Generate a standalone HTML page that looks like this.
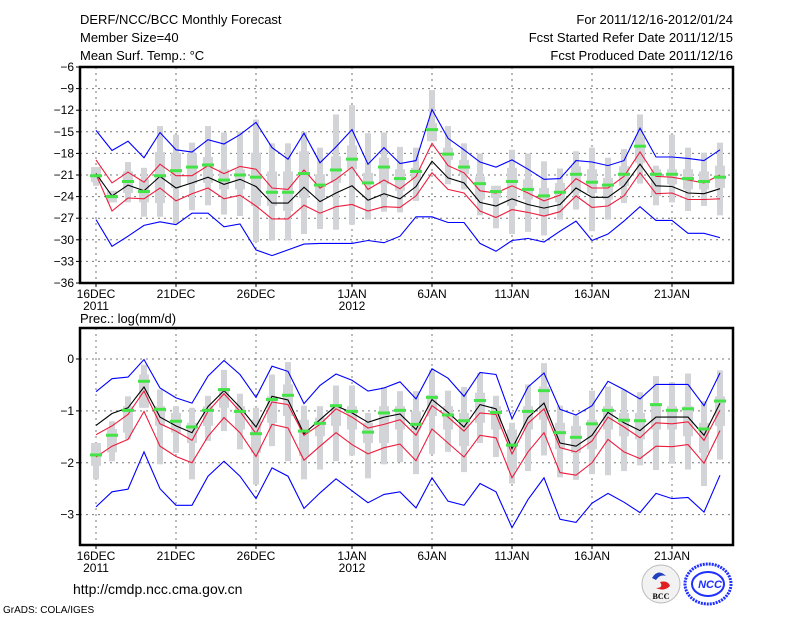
<!DOCTYPE html>
<html><head><meta charset="utf-8">
<style>
html,body{margin:0;padding:0;background:#fff;}
svg{display:block;font-family:"Liberation Sans","DejaVu Sans",sans-serif;}
</style></head>
<body>
<svg id="chart" width="800" height="618" viewBox="0 0 800 618" xmlns="http://www.w3.org/2000/svg">
<rect width="800" height="618" fill="#fff"/>
<g font-size="13" fill="#000">
<text x="80" y="24">DERF/NCC/BCC Monthly Forecast</text>
<text x="80" y="42">Member Size=40</text>
<text x="80" y="60">Mean Surf. Temp.: °C</text>
<text x="733" y="24" text-anchor="end">For 2011/12/16-2012/01/24</text>
<text x="733" y="42" text-anchor="end">Fcst Started Refer Date 2011/12/15</text>
<text x="733" y="60" text-anchor="end">Fcst Produced Date 2011/12/16</text>
<text x="80" y="323">Prec.: log(mm/d)</text>
<text x="73" y="594" font-size="14">http://cmdp.ncc.cma.gov.cn</text>
<text x="3" y="613" font-size="10">GrADS: COLA/IGES</text>
</g>
<g id="top"></g>
<g id="bot"></g>
<g>
<circle cx="661" cy="584" r="19" fill="#f2f2f2" stroke="#bbb"/>
<path d="M652 578 q6 -10 14 -2 q-6 -2 -10 4z" fill="#2040c0"/>
<path d="M660 582 q8 -2 10 4 q-6 6 -14 2 q8 0 4 -6z" fill="#e02020"/>
<text x="661" y="599" font-size="8" text-anchor="middle" font-family="Liberation Serif" font-weight="bold">BCC</text>
<ellipse cx="708" cy="584" rx="23" ry="20" fill="none" stroke="#2030ff" stroke-width="3" stroke-dasharray="2 1"/>
<ellipse cx="708" cy="584" rx="16" ry="12" fill="none" stroke="#2030ff" stroke-width="2"/>
<text x="710" y="588" font-size="11" text-anchor="middle" fill="#2030ff" font-style="italic" font-weight="bold">NCC</text>
</g>
</svg>
<script>
const days = Array.from({length:40},(_,i)=>i);
const xLabels = ["16DEC","21DEC","26DEC","1JAN","6JAN","11JAN","16JAN","21JAN"];
const xLabelDays = [0,5,10,16,21,26,31,36];
const yrLabels = ["2011","2012"];
const yrLabelDays = [0,16];

// ---- Temperature panel data ----
const tTicks = [-6,-9,-12,-15,-18,-21,-24,-27,-30,-33,-36];
const tMean = [-20.8,-23.9,-22.4,-23.2,-21.2,-22.8,-22.1,-21.3,-22.3,-21.6,-22.6,-24.9,-24.9,-22.7,-24.7,-23.5,-22.5,-24.5,-23.6,-24.3,-22.6,-19.1,-21.4,-22.1,-24.8,-25.3,-24.3,-25.1,-25.6,-25.1,-22.8,-24.1,-24.1,-22.5,-19.5,-22.5,-22.6,-23.5,-23.6,-22.9];
const tRedHi = [-18.9,-22.1,-20.6,-22.0,-19.5,-21.1,-21.1,-19.7,-20.8,-19.8,-20.2,-22.8,-23.0,-20.3,-22.8,-21.6,-19.9,-23.0,-21.7,-22.9,-21.2,-16.6,-19.7,-20.7,-23.2,-23.5,-22.5,-23.5,-24.6,-23.8,-21.5,-22.8,-22.8,-21.2,-17.8,-21.2,-21.3,-21.7,-22.1,-21.0];
const tRedLo = [-20.9,-26.0,-24.2,-24.3,-22.8,-24.6,-23.6,-22.8,-24.3,-23.8,-25.3,-27.1,-27.1,-25.2,-26.3,-25.4,-25.1,-26.0,-25.4,-25.5,-23.9,-20.7,-23.0,-23.5,-26.0,-26.9,-25.8,-26.2,-26.7,-26.1,-23.9,-25.5,-25.3,-23.9,-20.7,-23.6,-23.5,-24.4,-24.4,-24.3];
const tBlueHi = [-14.8,-17.6,-16.3,-18.6,-15.1,-17.5,-17.8,-16.1,-16.7,-15.4,-13.7,-17.2,-18.8,-15.2,-19.3,-17.1,-14.7,-19.5,-17.2,-19.4,-19.0,-11.9,-15.9,-17.5,-19.2,-19.9,-18.9,-20.2,-21.6,-21.5,-19.0,-19.2,-19.7,-19.0,-14.5,-18.5,-18.5,-18.7,-19.0,-17.5];
const tBlueLo = [-27.2,-30.9,-29.5,-28.0,-27.5,-27.9,-26.3,-26.3,-28.2,-27.8,-31.4,-32.2,-31.4,-30.6,-30.5,-30.5,-30.5,-30.1,-30.4,-29.5,-26.8,-26.8,-27.6,-27.6,-30.5,-31.6,-30.1,-29.8,-30.3,-28.8,-27.4,-30.1,-29.2,-27.4,-25.4,-27.3,-27.3,-29.1,-29.1,-29.7];
const tGreen = [-21.1,-24.0,-21.9,-23.3,-21.1,-20.4,-19.9,-19.6,-21.7,-21.0,-21.3,-23.4,-23.4,-20.8,-22.4,-20.3,-18.8,-22.1,-19.9,-21.5,-20.5,-14.7,-18.1,-19.9,-22.2,-23.3,-21.9,-23.0,-23.9,-23.4,-20.9,-22.0,-22.4,-20.9,-17.0,-20.9,-20.9,-21.5,-21.9,-21.3];
const tWhiskHi = [-20.0,-23.2,-19.2,-20.0,-14.2,-15.4,-16.5,-14.2,-15.1,-15.0,-13.3,-16.6,-16.6,-15.0,-17.2,-12.6,-11.3,-15.2,-15.1,-17.1,-17.2,-9.2,-14.2,-16.6,-18.0,-22.5,-17.5,-18.0,-19.1,-20.1,-17.7,-17.2,-18.6,-17.4,-12.6,-19.7,-15.4,-17.2,-17.9,-16.5];
const tWhiskLo = [-22.5,-24.8,-24.8,-26.8,-26.8,-27.8,-25.9,-25.2,-26.5,-26.7,-30.3,-30.1,-30.1,-29.2,-28.5,-28.6,-27.9,-27.2,-26.1,-26.2,-24.6,-16.3,-22.3,-23.0,-26.6,-28.4,-29.2,-28.9,-29.4,-27.2,-25.8,-28.8,-27.2,-24.9,-22.2,-25.2,-24.8,-26.0,-25.3,-26.6];
const tBoxHi = [-19.9,-23.2,-20.5,-21.6,-17.8,-17.9,-18.0,-18.5,-20.2,-20.2,-17.9,-20.5,-20.5,-17.7,-20.9,-18.4,-16.9,-20.7,-18.6,-20.2,-20.0,-13.8,-17.2,-18.9,-21.2,-22.5,-20.0,-21.6,-22.8,-22.1,-19.8,-20.2,-21.4,-19.8,-15.7,-20.2,-20.2,-20.2,-20.5,-19.7];
const tBoxLo = [-22.0,-24.8,-23.5,-24.8,-24.9,-22.8,-22.2,-22.1,-23.0,-23.0,-25.3,-25.3,-26.0,-24.2,-24.2,-22.1,-20.2,-22.3,-22.3,-23.2,-21.6,-16.3,-18.9,-20.9,-24.4,-24.2,-25.3,-24.4,-26.7,-24.8,-23.5,-23.5,-24.4,-22.5,-19.3,-23.9,-22.3,-23.0,-23.0,-22.8];

// ---- Precipitation panel data ----
const pTicks = [0,-1,-2,-3];
const pMean = [-1.28,-1.05,-0.94,-0.54,-1.12,-1.29,-1.42,-0.92,-0.61,-0.93,-1.31,-0.72,-0.79,-1.44,-1.17,-0.90,-1.04,-1.22,-1.12,-1.06,-1.36,-0.78,-1.03,-1.31,-0.88,-0.96,-1.73,-1.13,-0.85,-1.62,-1.68,-1.47,-1.03,-1.23,-1.38,-1.12,-1.12,-1.12,-1.47,-0.85];
const pRedHi = [-1.46,-1.29,-1.07,-0.62,-1.25,-1.39,-1.57,-1.01,-0.67,-1.01,-1.44,-0.83,-0.88,-1.47,-1.26,-0.96,-1.12,-1.33,-1.26,-1.17,-1.47,-0.90,-1.12,-1.39,-1.04,-1.07,-1.83,-1.24,-0.96,-1.71,-1.79,-1.58,-1.12,-1.31,-1.52,-1.23,-1.25,-1.21,-1.57,-0.99];
const pRedLo = [-1.89,-1.68,-1.55,-1.01,-1.68,-1.88,-2.00,-1.49,-1.13,-1.42,-1.88,-1.26,-1.33,-1.95,-1.68,-1.42,-1.65,-1.83,-1.71,-1.64,-1.96,-1.35,-1.62,-1.89,-1.47,-1.52,-2.29,-1.79,-1.42,-2.19,-2.24,-2.00,-1.55,-1.79,-1.92,-1.68,-1.69,-1.65,-2.01,-1.38];
const pBlueHi = [-0.63,-0.38,-0.35,-0.01,-0.56,-0.75,-0.85,-0.33,-0.03,-0.30,-0.74,-0.14,-0.24,-0.86,-0.51,-0.29,-0.41,-0.62,-0.56,-0.44,-0.77,-0.19,-0.37,-0.72,-0.26,-0.30,-1.15,-0.54,-0.27,-0.97,-1.08,-0.90,-0.43,-0.59,-0.77,-0.49,-0.49,-0.49,-0.90,-0.27];
const pBlueLo = [-2.85,-2.56,-2.51,-1.79,-2.50,-2.82,-2.82,-2.26,-1.97,-2.26,-2.69,-2.10,-2.26,-2.88,-2.58,-2.31,-2.54,-2.77,-2.61,-2.56,-2.87,-2.29,-2.74,-2.82,-2.40,-2.56,-3.25,-2.71,-2.29,-3.09,-3.15,-2.78,-2.59,-2.76,-2.96,-2.59,-2.69,-2.67,-2.95,-2.24];
const pGreen = [-1.85,-1.47,-0.99,-0.43,-0.97,-1.20,-1.31,-0.99,-0.59,-1.01,-1.44,-0.78,-0.70,-1.39,-1.24,-0.90,-1.01,-1.41,-1.04,-0.99,-1.26,-0.74,-1.08,-1.19,-0.80,-1.03,-1.66,-1.01,-0.61,-1.42,-1.51,-1.25,-0.99,-1.18,-1.19,-0.88,-0.99,-0.96,-1.35,-0.81];
const pWhiskHi = [-1.62,-1.20,-0.72,-0.11,-0.59,-0.91,-0.94,-0.71,-0.21,-0.67,-0.94,-0.30,-0.06,-0.90,-0.91,-0.51,-0.51,-1.04,-0.54,-0.62,-0.62,-0.21,-0.61,-0.54,-0.27,-0.71,-1.23,-0.49,-0.08,-0.90,-1.09,-0.61,-0.53,-0.59,-0.64,-0.33,-0.45,-0.28,-0.81,-0.22];
const pWhiskLo = [-2.32,-1.97,-1.55,-0.94,-2.03,-1.81,-2.32,-1.58,-1.39,-1.74,-2.42,-1.68,-1.97,-2.32,-2.13,-1.97,-1.86,-2.30,-2.03,-1.99,-2.22,-1.83,-1.79,-2.18,-1.62,-1.89,-2.40,-2.16,-1.86,-2.28,-2.33,-2.22,-2.24,-2.16,-2.05,-2.14,-2.02,-2.13,-2.45,-1.94];
const pBoxHi = [-1.62,-1.35,-0.91,-0.30,-0.91,-1.04,-1.23,-0.91,-0.56,-0.91,-1.17,-0.72,-0.49,-1.17,-1.13,-0.88,-0.91,-1.23,-0.91,-0.91,-1.01,-0.69,-0.91,-1.04,-0.65,-0.91,-1.36,-0.91,-0.53,-1.23,-1.29,-1.17,-0.91,-1.04,-1.04,-0.85,-0.91,-0.91,-1.23,-0.72];
const pBoxLo = [-2.06,-1.80,-1.42,-0.94,-1.29,-1.42,-1.62,-1.29,-0.94,-1.36,-1.81,-1.23,-1.10,-1.87,-1.49,-1.29,-1.36,-1.62,-1.62,-1.36,-1.36,-1.10,-1.36,-1.68,-1.23,-1.36,-2.13,-1.36,-1.17,-1.74,-1.81,-1.74,-1.36,-1.49,-1.55,-1.36,-1.36,-1.49,-1.81,-1.29];

const NS = "http://www.w3.org/2000/svg";
function mk(parent, tag, attrs){
  const e = document.createElementNS(NS, tag);
  for (const k in attrs) e.setAttribute(k, attrs[k]);
  parent.appendChild(e);
  return e;
}
const X0 = 80, X1 = 733;
function xs(d){ return 96 + 16*d; }

function drawPanel(g, cfg){
  const ys = v => cfg.top + (cfg.vmax - v) * (cfg.bottom - cfg.top) / (cfg.vmax - cfg.vmin);
  // grid
  cfg.ticks.forEach(t => {
    const y = ys(t);
    const l = mk(g,'line',{x1:X0,x2:X1,y1:y,y2:y,stroke:'#777','stroke-width':1,'stroke-dasharray':'2 4'});
    
    
    const tk = mk(g,'line',{x1:X0-4,x2:X0,y1:y,y2:y,stroke:'#000'});
    
    
    const tx = mk(g,'text',{x:X0-6,y:y+4,'font-size':12,'text-anchor':'end'});
    tx.textContent = (t<0?'\u2212'+(-t):t);
    
    
  });
  xLabelDays.forEach((d,i) => {
    const x = xs(d);
    const l = mk(g,'line',{x1:x,x2:x,y1:cfg.top,y2:cfg.bottom,stroke:'#777','stroke-width':1,'stroke-dasharray':'2 4'});
    
    
    const tk = mk(g,'line',{x1:x,x2:x,y1:cfg.bottom,y2:cfg.bottom+4,stroke:'#000'});
    
    
    const tx = mk(g,'text',{x:x,y:cfg.bottom+15,'font-size':12,'text-anchor':'middle'});
    tx.textContent = xLabels[i];
    
    
  });
  yrLabelDays.forEach((d,i) => {
    const tx = mk(g,'text',{x:xs(d),y:cfg.bottom+27,'font-size':12,'text-anchor':'middle'});
    tx.textContent = yrLabels[i];
    
    
  });
  // boxes
  days.forEach(d => {
    const x = xs(d);
    const w = mk(g,'rect',{x:x-3,y:ys(cfg.wHi[d]),width:6,height:Math.max(1,ys(cfg.wLo[d])-ys(cfg.wHi[d])),fill:'#d3d4d8'});
    
    
    const b = mk(g,'rect',{x:x-5,y:ys(cfg.bHi[d]),width:10,height:Math.max(1,ys(cfg.bLo[d])-ys(cfg.bHi[d])),fill:'#d3d4d8'});
    
    
  });
  const line = (arr, color, name) => {
    const p = mk(g,'polyline',{points:days.map(d=>xs(d)+','+ys(arr[d]).toFixed(1)).join(' '),fill:'none',stroke:color,'stroke-width':1.1});
    
    
  };
  line(cfg.bHiL,'#0000ff','max-line');
  line(cfg.bLoL,'#0000ff','min-line');
  line(cfg.rHi,'#ee1c3c','upper-red-line');
  line(cfg.rLo,'#ee1c3c','lower-red-line');
  line(cfg.mean,'#000','ensemble-mean-line');
  days.forEach(d => {
    const r = mk(g,'rect',{x:xs(d)-6,y:ys(cfg.green[d])-1.5,width:12,height:3,fill:'#44e448'});
    
    
  });
  const f = mk(g,'rect',{x:X0,y:cfg.top,width:X1-X0,height:cfg.bottom-cfg.top,fill:'none',stroke:'#000','stroke-width':2.5});
  
  
}

drawPanel(document.getElementById('top'),{top:67,bottom:283,vmax:-6,vmin:-36,ticks:tTicks,
  mean:tMean,rHi:tRedHi,rLo:tRedLo,bHiL:tBlueHi,bLoL:tBlueLo,green:tGreen,
  wHi:tWhiskHi,wLo:tWhiskLo,bHi:tBoxHi,bLo:tBoxLo});
drawPanel(document.getElementById('bot'),{top:328,bottom:545,vmax:0.597,vmin:-3.585,ticks:pTicks,
  mean:pMean,rHi:pRedHi,rLo:pRedLo,bHiL:pBlueHi,bLoL:pBlueLo,green:pGreen,
  wHi:pWhiskHi,wLo:pWhiskLo,bHi:pBoxHi,bLo:pBoxLo});
</script>
</body></html>
